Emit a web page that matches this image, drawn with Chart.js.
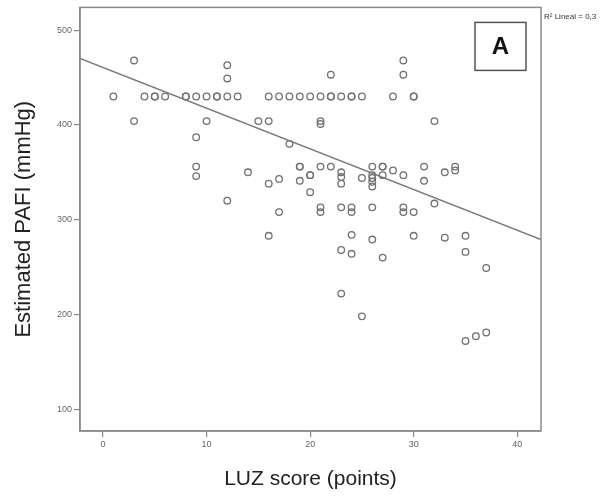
<!DOCTYPE html>
<html>
<head>
<meta charset="utf-8">
<script src="https://cdn.jsdelivr.net/npm/chart.js@4.4.0/dist/chart.umd.min.js"></script>
<style>
  html, body { margin: 0; padding: 0; background: #fff; }
</style>
</head>
<body>
<canvas id="scatter" width="611" height="497"></canvas>
<script>
'use strict';
// LUZ score vs estimated PAFI
const luzScore = [1, 3, 3, 4, 5, 5, 6, 8, 8, 9, 9, 9, 9, 10, 10, 11, 11, 12, 12, 12, 12, 13, 14, 15,
  16, 16, 16, 16, 17, 17, 17, 18, 18, 19, 19, 19, 19, 20, 20, 20, 20, 21, 21, 21, 21, 21, 21,
  22, 22, 22, 22, 23, 23, 23, 23, 23, 23, 23, 24, 24, 24, 24, 24, 24, 25, 25, 25,
  26, 26, 26, 26, 26, 26, 26, 27, 27, 27, 27, 28, 28, 29, 29, 29, 29, 29, 30, 30, 30, 30,
  31, 31, 32, 32, 33, 33, 34, 34, 35, 35, 35, 36, 37, 37];
const pafi = [430, 468, 404, 430, 430, 430, 430, 430, 430, 430, 387, 356, 346, 430, 404, 430, 430, 463, 449, 430, 320, 430, 350, 404,
  430, 404, 338, 283, 430, 343, 308, 430, 380, 430, 356, 356, 341, 430, 347, 347, 329, 430, 404, 401, 356, 313, 308,
  453, 430, 430, 356, 430, 350, 345, 338, 313, 268, 222, 430, 430, 313, 308, 284, 264, 430, 344, 198,
  356, 347, 344, 340, 335, 313, 279, 356, 356, 347, 260, 430, 352, 468, 453, 347, 313, 308, 430, 430, 308, 283,
  356, 341, 404, 317, 350, 281, 356, 352, 283, 266, 172, 177, 249, 181];
const xTicks = [0, 10, 20, 30, 40];
const yTicks = [100, 200, 300, 400, 500];
const xRange = [-2.22, 42.29];
const yRange = [77, 524];
// fitted line y = a + b*x
const fitIntercept = 460.5;
const fitSlope = -4.29;
const fitLabel = 'R² Lineal = 0,3';
const panelLabel = 'A';

const points = luzScore.map((x, i) => ({ x: x, y: pafi[i] }));
const fitLine = xRange.map(x => ({ x: x, y: fitIntercept + fitSlope * x }));

const frame = {
  id: 'frame',
  afterDraw(chart) {
    const ctx = chart.ctx;
    const a = chart.chartArea;
    ctx.save();
    ctx.strokeStyle = '#8a8a8a';
    ctx.lineWidth = 1.5;
    ctx.strokeRect(a.left, a.top, a.right - a.left, a.bottom - a.top);
    // panel letter box
    ctx.strokeStyle = '#555';
    ctx.lineWidth = 1.5;
    ctx.strokeRect(a.right - 66, a.top + 15, 51, 48);
    ctx.fillStyle = '#111';
    ctx.font = 'bold 24px "Liberation Sans", Arial, sans-serif';
    ctx.textAlign = 'center';
    ctx.textBaseline = 'middle';
    ctx.fillText(panelLabel, a.right - 40.5, a.top + 40);
    // R2 note
    ctx.font = '8px "Liberation Sans", Arial, sans-serif';
    ctx.textAlign = 'left';
    ctx.fillStyle = '#333';
    ctx.fillText(fitLabel, a.right + 3, a.top + 9);
    ctx.restore();
  }
};

new Chart(document.getElementById('scatter'), {
  type: 'scatter',
  data: {
    datasets: [{
      data: points,
      pointStyle: 'circle',
      pointRadius: 3.3,
      pointBorderWidth: 1.3,
      pointBorderColor: '#707070',
      pointBackgroundColor: 'rgba(255,255,255,0)',
      order: 2
    }, {
      type: 'line',
      data: fitLine,
      borderColor: '#7a7a7a',
      borderWidth: 1.5,
      pointRadius: 0,
      fill: false,
      order: 1
    }]
  },
  plugins: [frame],
  options: {
    responsive: false,
    animation: false,
    events: [],
    layout: { padding: { top: 7, right: 70, left: 0, bottom: 0 } },
    plugins: { legend: { display: false }, tooltip: { enabled: false } },
    scales: {
      x: {
        type: 'linear',
        min: xRange[0],
        max: xRange[1],
        afterBuildTicks: scale => { scale.ticks = xTicks.map(v => ({ value: v })); },
        afterFit: scale => { scale.height = 66; },
        grid: { drawOnChartArea: false, drawTicks: true, tickLength: 6, color: '#8a8a8a', lineWidth: 1.2 },
        border: { display: true, color: '#8a8a8a', width: 1.5 },
        ticks: { color: '#666', font: { family: '"Liberation Sans", Arial, sans-serif', size: 9 }, padding: 2, maxRotation: 0 },
        title: {
          display: true,
          text: 'LUZ score (points)',
          color: '#222',
          font: { family: '"Liberation Sans", Arial, sans-serif', size: 21 },
          padding: { top: 6, bottom: 5 }
        }
      },
      y: {
        type: 'linear',
        min: yRange[0],
        max: yRange[1],
        afterBuildTicks: scale => { scale.ticks = yTicks.map(v => ({ value: v })); },
        afterFit: scale => { scale.width = 80; },
        grid: { drawOnChartArea: false, drawTicks: true, tickLength: 6, color: '#8a8a8a', lineWidth: 1.2 },
        border: { display: true, color: '#8a8a8a', width: 1.5 },
        ticks: { color: '#666', font: { family: '"Liberation Sans", Arial, sans-serif', size: 9 }, padding: 2 },
        title: {
          display: true,
          text: 'Estimated PAFI (mmHg)',
          color: '#222',
          font: { family: '"Liberation Sans", Arial, sans-serif', size: 22 },
          padding: { top: 11, bottom: 0 }
        }
      }
    }
  }
});
</script>
</body>
</html>
